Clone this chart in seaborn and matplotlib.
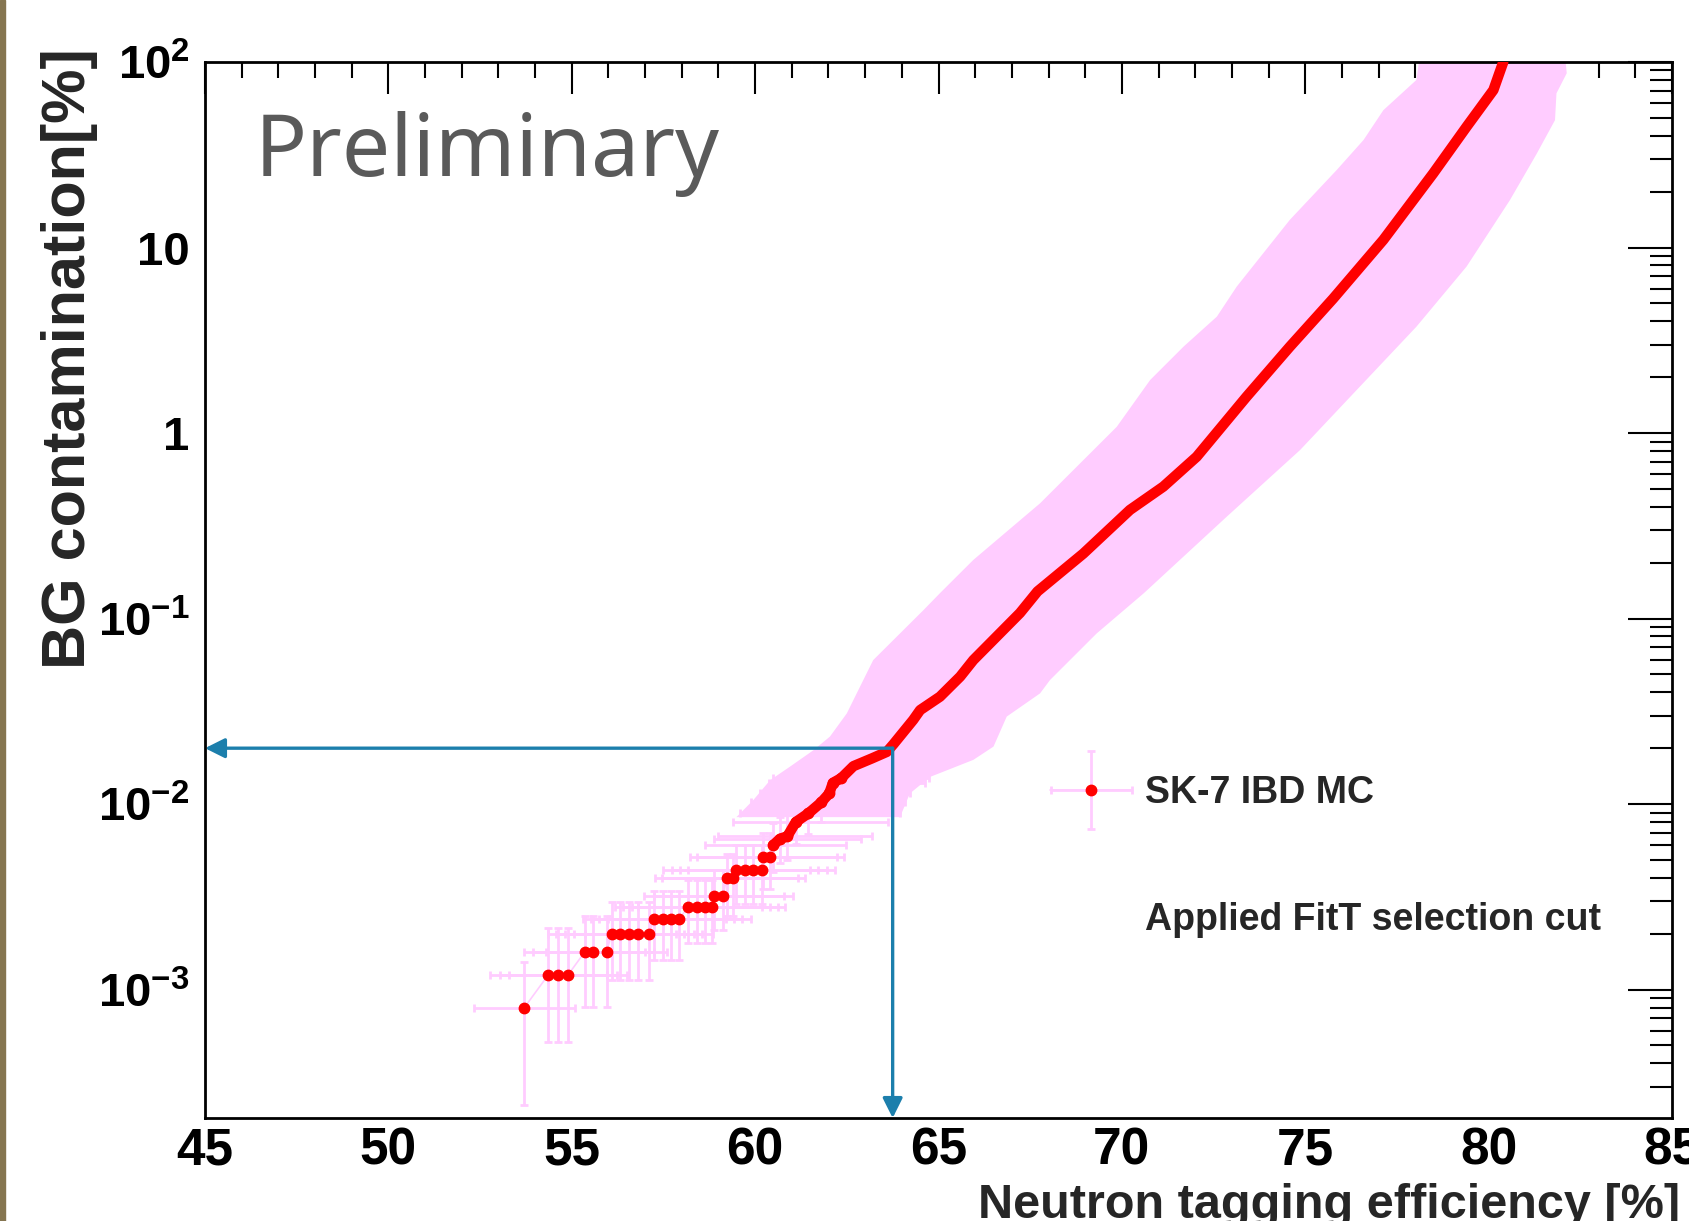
import numpy as np
import matplotlib
matplotlib.use("Agg")
import matplotlib.pyplot as plt
import seaborn as sns
from matplotlib.ticker import MultipleLocator, LogLocator, FuncFormatter, NullFormatter
from matplotlib.container import ErrorbarContainer
from matplotlib.legend_handler import HandlerErrorbar
from matplotlib.lines import Line2D
from matplotlib.patches import Rectangle

# --- datos ---

# puntos con poca estadistica (niveles discretos de BG)
x_low = [53.71, 54.36, 54.63, 54.90, 55.36, 55.59, 55.95, 56.09, 56.32, 56.57,
         56.81, 57.11, 57.25, 57.48, 57.70, 57.93, 58.18, 58.41, 58.63, 58.82,
         58.88, 59.13, 59.22, 59.41, 59.49, 59.72, 59.95, 60.18, 60.22, 60.41]
bg_levels = [0.0008, 0.0012, 0.0016, 0.0020, 0.0024, 0.0028, 0.0032, 0.0040, 0.0044, 0.0052]
n_per_level = [1, 3, 3, 5, 4, 4, 2, 2, 4, 2]
xerr_level = [1.37, 1.6, 1.65, 1.75, 1.95, 2.0, 1.9, 1.95, 2.0, 2.0]
yerr_dn_level = [0.00056, 0.00068, 0.00079, 0.00088, 0.00096, 0.00101, 0.00111, 0.0015, 0.0015, 0.0017]
yerr_up_level = [0.0006, 0.00095, 0.0009, 0.00097, 0.0010, 0.0011, 0.0012, 0.0014, 0.0016, 0.0018]

# zona intermedia (barras horizontales visibles)
x_mid = [60.49, 60.68, 60.88, 61.11, 61.45, 61.80, 62.02, 62.12, 62.35]
y_mid = [0.0060, 0.0065, 0.0067, 0.0080, 0.0089, 0.0102, 0.0114, 0.0130, 0.0138]
xerr_mid_lo = [1.85, 1.8, 1.9, 1.7, 1.85, 1.9, 1.9, 1.75, 1.85]
xerr_mid_hi = [2.0, 2.2, 2.3, 2.5, 2.5, 2.3, 2.2, 2.5, 2.4]
yerr_mid_lo = [0.0017, 0.0017, 0.0017, 0.0019, 0.0020, 0.0022, 0.0023, 0.0025, 0.0026]
yerr_mid_hi = [0.0019, 0.0020, 0.0020, 0.0022, 0.0024, 0.0026, 0.0028, 0.0030, 0.0031]

# curva continua (alta estadistica)
x_up = [62.68, 63.18, 63.59, 63.77, 64.31, 64.50, 65.04, 65.59, 65.95, 66.40, 67.22,
        67.70, 68.95, 70.22, 71.13, 72.04, 73.40, 74.58, 75.76, 77.13, 78.49, 79.40,
        80.13, 80.40]
y_up = [0.0160, 0.0176, 0.0191, 0.0210, 0.0284, 0.0321, 0.0379, 0.0486, 0.0597, 0.0734, 0.107,
        0.140, 0.224, 0.385, 0.514, 0.745, 1.57, 2.92, 5.3, 11.0, 25.1, 44.8,
        70.6, 100.0]

# bordes de la banda de error (rosa)
band_left_y = [0.0085, 0.0105, 0.01345, 0.0159, 0.0195, 0.0231, 0.0308, 0.0395, 0.0466, 0.0597,
               0.111, 0.137, 0.207, 0.418, 1.08, 1.93, 2.92, 4.24, 6.15, 14.1, 26.2, 38.0,
               55.0, 80.0, 100.0]
band_left_x = [59.49, 59.95, 60.41, 60.95, 61.59, 62.04, 62.50, 62.77, 62.95, 63.22,
               64.59, 65.04, 65.95, 67.77, 69.86, 70.77, 71.68, 72.59, 73.13, 74.58, 75.86, 76.59,
               77.13, 78.03, 78.1]
band_right_y = [0.0085, 0.0114, 0.0140, 0.0173, 0.0204, 0.0296, 0.0395, 0.0466, 0.083, 0.137,
                0.354, 0.81, 1.51, 3.74, 7.9, 18.0, 32.0, 48.6, 67.8, 87.0, 100.0]
band_right_x = [63.95, 64.22, 64.77, 65.95, 66.50, 66.86, 67.77, 68.04, 69.31, 70.6,
                72.86, 74.86, 76.15, 78.03, 79.40, 80.58, 81.31, 81.81, 81.85, 82.13, 82.1]

# punto de trabajo (flechas azules)
wp_eff = 63.75
wp_bg = 0.02

x_range = (45, 85)
y_range = (2.03e-4, 100)

ROSA = "#ffccff"
AZUL = "#1c7fac"

sns.set_style("white")
plt.rcParams['font.family'] = ['Liberation Sans', 'DejaVu Sans']
plt.rcParams['font.weight'] = 'bold'
plt.rcParams['mathtext.fontset'] = 'custom'
plt.rcParams['mathtext.rm'] = 'Liberation Sans'
plt.rcParams['mathtext.bf'] = 'Liberation Sans:bold'

fig = plt.figure(figsize=(16.9, 12.21), dpi=100)
ax = fig.add_axes([205 / 1690, 103 / 1221, 1467 / 1690, 1056 / 1221])

# banda
ax.fill(band_left_x + band_right_x[::-1], band_left_y + band_right_y[::-1],
        color=ROSA, lw=0, zorder=1)

# grafico con errores
y_low = np.repeat(bg_levels, n_per_level)
xe_low = np.repeat(xerr_level, n_per_level)
yd_low = np.repeat(yerr_dn_level, n_per_level)
yu_low = np.repeat(yerr_up_level, n_per_level)

gx = np.concatenate([x_low, x_mid])
gy = np.concatenate([y_low, y_mid])
gxe = [np.concatenate([xe_low, xerr_mid_lo]), np.concatenate([xe_low, xerr_mid_hi])]
gye = [np.concatenate([yd_low, yerr_mid_lo]), np.concatenate([yu_low, yerr_mid_hi])]

eb = ax.errorbar(gx, gy, xerr=gxe, yerr=gye, fmt='o-', color=ROSA, lw=1.2,
                 ms=7.5, mfc='red', mec='red', ecolor=ROSA, elinewidth=2.0,
                 capsize=3, capthick=2.0, zorder=3, label='SK-7 IBD MC')

# curva roja
sns.lineplot(x=x_mid + x_up, y=y_mid + y_up, color='red', lw=7.5, sort=False,
             estimator=None, ax=ax, solid_capstyle='round', solid_joinstyle='round',
             zorder=4)

# flechas
ax.annotate('', xy=(x_range[0], wp_bg), xytext=(wp_eff, wp_bg), annotation_clip=False,
            arrowprops=dict(arrowstyle='-|>,head_length=0.6,head_width=0.3', color=AZUL,
                            lw=2.4, shrinkA=0, shrinkB=0, mutation_scale=20), zorder=6)
ax.annotate('', xy=(wp_eff, y_range[0]), xytext=(wp_eff, wp_bg), annotation_clip=False,
            arrowprops=dict(arrowstyle='-|>,head_length=0.6,head_width=0.3', color=AZUL,
                            lw=2.4, shrinkA=0, shrinkB=0, mutation_scale=20), zorder=6)

ax.set_yscale('log')
ax.set_xlim(*x_range)
ax.set_ylim(*y_range)

ax.xaxis.set_major_locator(MultipleLocator(5))
ax.xaxis.set_minor_locator(MultipleLocator(1))
ax.yaxis.set_major_locator(LogLocator(base=10, numticks=20))
ax.yaxis.set_minor_locator(LogLocator(base=10, subs=np.arange(2, 10), numticks=20))
ax.yaxis.set_minor_formatter(NullFormatter())


def etiqueta_y(v, pos):
    e = int(round(np.log10(v)))
    if e in (0, 1):
        return str(int(round(v)))
    return r'$\mathbf{10^{%d}}$' % e


ax.yaxis.set_major_formatter(FuncFormatter(etiqueta_y))
ax.xaxis.set_major_formatter(FuncFormatter(lambda v, p: '%d' % v))

ax.tick_params(which='both', direction='in', top=True, right=True, width=1.5,
               colors='black')
ax.tick_params(axis='x', which='major', length=23, pad=6, labelsize=37)
ax.tick_params(axis='x', which='minor', length=11.5)
ax.tick_params(axis='y', which='major', length=32, pad=11, labelsize=34)
ax.tick_params(axis='y', which='minor', length=16)
for s in ax.spines.values():
    s.set_linewidth(2.0)
    s.set_color('black')
ax.set_xlabel('')
ax.set_ylabel('')

# textos
ax.text(0.034, 0.892, 'Preliminary', transform=ax.transAxes, fontsize=62,
        fontweight='normal', family=['Noto Sans', 'DejaVu Sans'], color='#5a5a5a',
        va='baseline', ha='left')

fig.text(1680 / 1690, 3 / 1221, 'Neutron tagging efficiency [%]', fontsize=35,
         fontweight='bold', ha='right', va='baseline')
fig.text(70 / 1690, 1 - 48 / 1221, 'BG contamination[%]', fontsize=44,
         fontweight='bold', rotation=90, ha='center', va='top')

# leyenda
nota = Line2D([], [], linestyle='none')
ax.legend([eb, nota], ['SK-7 IBD MC', 'Applied FitT selection cut'],
          loc='upper left', bbox_to_anchor=(0.576, 0.3245), frameon=False,
          fontsize=27, handlelength=2.2, handletextpad=0.33, labelspacing=2.42,
          borderpad=0, borderaxespad=0, numpoints=1,
          handler_map={ErrorbarContainer: HandlerErrorbar(xerr_size=1.08, yerr_size=1.04)})

# borde izquierdo de la diapositiva
fig.patches.append(Rectangle((0, 0), 5 / 1690, 1, transform=fig.transFigure,
                             color='#857550', zorder=10))

fig.savefig('out.png', dpi=100)
